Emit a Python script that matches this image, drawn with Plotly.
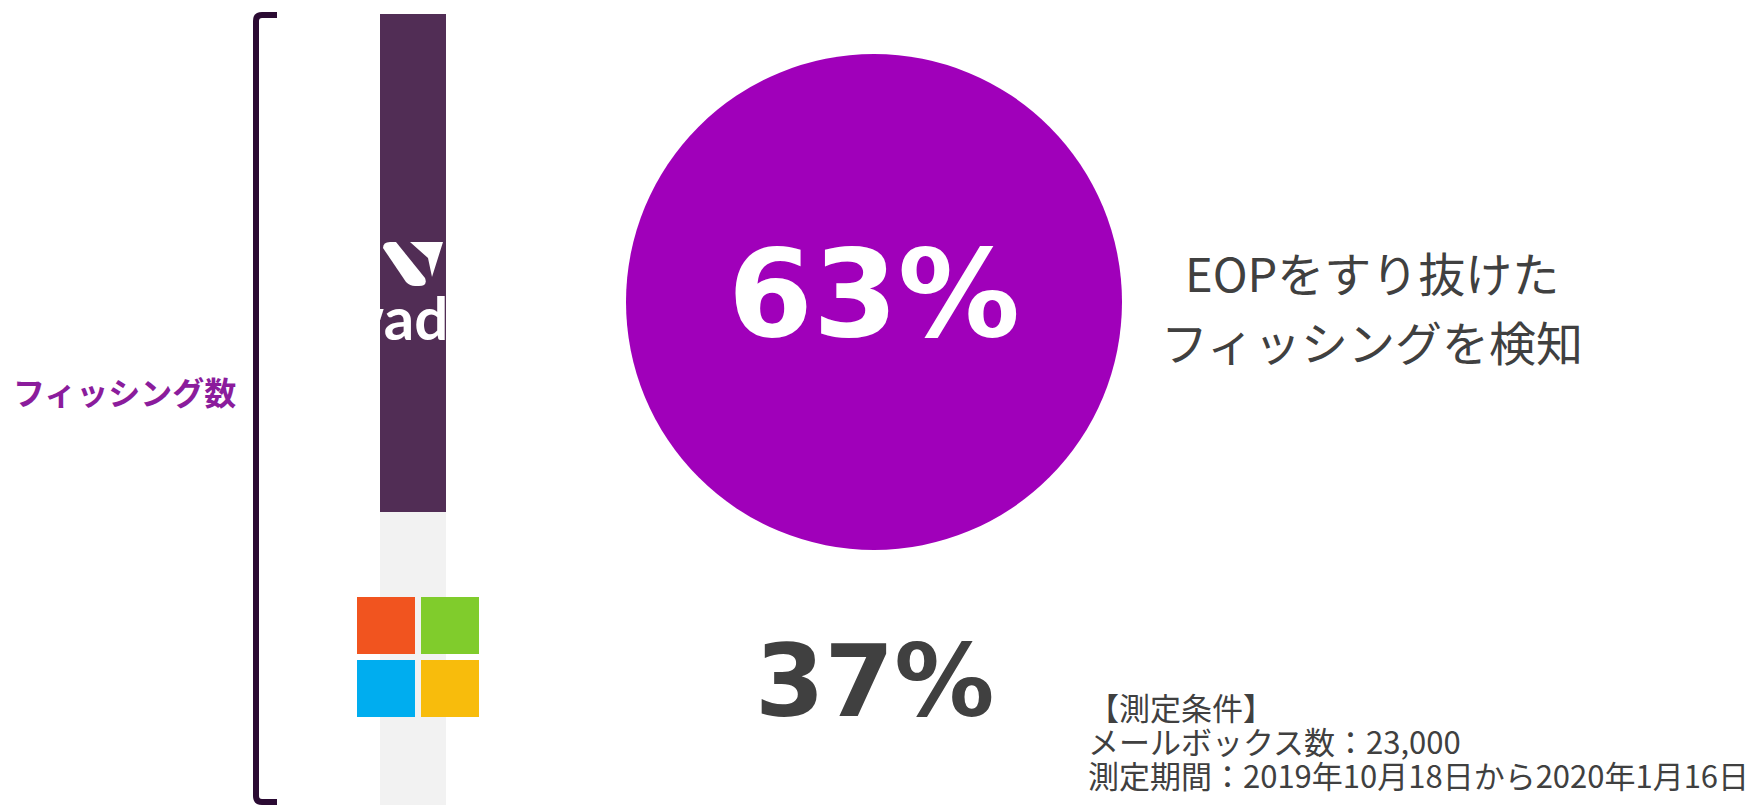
import plotly.graph_objects as go

W, H = 1751, 805

# ---- data ----
segments = ["Microsoft EOP", "Vade"]
shares = [37, 63]
seg_colors = ["#F2F2F2", "#512D55"]
axis_label = "フィッシング数"
headline = ["EOPをすり抜けた", "フィッシングを検知"]
conditions = ["【測定条件】", "メールボックス数：23,000", "測定期間：2019年10月18日から2020年1月16日"]


def px(x):
    return x / W


def py(y):
    return 1 - y / H


def P(x, y):
    return f"{px(x)},{py(y)}"


fig = go.Figure()
for name, val, col in zip(segments, shares, seg_colors):
    fig.add_trace(go.Bar(x=[413], y=[val], width=66, name=name,
                         marker=dict(color=col, line=dict(width=0)),
                         hoverinfo="name+y"))

shapes = []
# bracket
br = (f"M {P(277,15)} L {P(262,15)} Q {P(256,15)} {P(256,21)} "
      f"L {P(256,796)} Q {P(256,802)} {P(262,802)} L {P(277,802)}")
shapes.append(dict(type="path", path=br, xref="paper", yref="paper",
                   line=dict(color="#2B0B33", width=6)))
# big circle
shapes.append(dict(type="circle", xref="paper", yref="paper",
                   x0=px(626), x1=px(1122), y0=py(550), y1=py(54),
                   fillcolor="#A000BA", line=dict(width=0), layer="below"))
# vade logo mark
leaf = (f"M {P(383,248)} Q {P(383,242)} {P(390,242)} L {P(396,242)} "
        f"L {P(425,278)} Q {P(428,286)} {P(419,286)} L {P(415,286)} "
        f"Q {P(410,286)} {P(406,282)} Z")
shapes.append(dict(type="path", path=leaf, xref="paper", yref="paper",
                   fillcolor="white", line=dict(width=0)))
flag = f"M {P(410,242)} L {P(443,242)} L {P(432,277)} L {P(428,258)} Z"
shapes.append(dict(type="path", path=flag, xref="paper", yref="paper",
                   fillcolor="white", line=dict(width=0)))
# microsoft logo
ms = [((357, 597), "#F1541F"), ((421, 597), "#80CC2C"),
      ((357, 660), "#00ADEF"), ((421, 660), "#F8BC0C")]
for (x0, y0), c in ms:
    shapes.append(dict(type="rect", xref="paper", yref="paper",
                       x0=px(x0), x1=px(x0 + 58), y0=py(y0 + 57), y1=py(y0),
                       fillcolor=c, line=dict(width=0)))

ann = []


def A(**kw):
    kw.setdefault("showarrow", False)
    kw["xref"] = "paper"
    kw["yref"] = "paper"
    ann.append(kw)


A(x=px(408), y=py(342), xanchor="center", yanchor="bottom",
  text="<b>wade</b>", yshift=-13,
  font=dict(family="Lato", size=60, color="white", weight=900))
A(x=px(874), y=py(284), xanchor="center", yanchor="middle",
  text=f"<b>{shares[1]}%</b>", yshift=-10,
  font=dict(family="DejaVu Sans", size=122, color="white"))
A(x=px(874), y=py(673), xanchor="center", yanchor="middle",
  text=f"<b>{shares[0]}%</b>", yshift=-8,
  font=dict(family="DejaVu Sans", size=100, color="#404040"))
A(x=px(124), y=py(391), xanchor="center", yanchor="middle",
  text=f"<b>{axis_label}</b>",
  font=dict(family="Noto Sans CJK JP", size=32, color="#8B1C9C"))
for t, yc in zip(headline, [271, 341]):
    A(x=px(1372), y=py(yc), xanchor="center", yanchor="middle", text=t,
      font=dict(family="Noto Sans CJK JP", size=47, color="#404040"))
for t, yc in zip(conditions, [706, 740, 774]):
    A(x=px(1088), y=py(yc), xanchor="left", yanchor="middle", text=t, xshift=-2,
      font=dict(family="Noto Sans CJK JP", size=31, color="#404040"))

fig.update_layout(
    width=W, height=H, margin=dict(l=0, r=0, t=0, b=0, pad=0),
    barmode="stack", bargap=0, showlegend=False,
    paper_bgcolor="white", plot_bgcolor="white",
    xaxis=dict(range=[0, W], visible=False, fixedrange=True),
    yaxis=dict(range=[0, 100 * H / 791], visible=False, fixedrange=True),
    shapes=shapes, annotations=ann,
)
fig.write_html("out.html")
